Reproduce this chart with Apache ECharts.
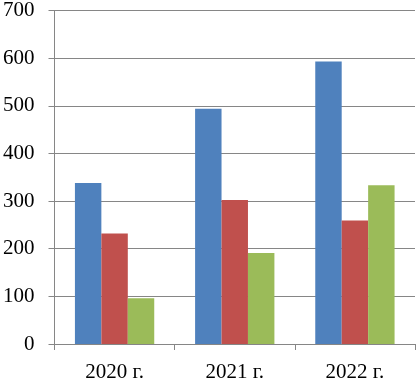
<!DOCTYPE html>
<html><head><meta charset="utf-8">
<script src="https://cdn.jsdelivr.net/npm/echarts@6/dist/echarts.min.js"></script>
<style>html,body{margin:0;padding:0;background:#fff}#c{width:417px;height:383px}</style>
</head><body><div id="c"></div>
<script>
const categories = ["2020 г.", "2021 г.", "2022 г."];
const seriesA = [338, 494, 593];
const seriesB = [232, 302, 259];
const seriesC = [96, 191, 333];
const colors = ["#4F81BD", "#C0504D", "#9BBB59"];

const chart = echarts.init(document.getElementById('c'));
const font = "'Liberation Serif', 'Times New Roman', serif";
chart.setOption({
  animation: false,
  grid: {left: 53, right: 2, top: 8, bottom: 35},
  xAxis: {
    type: 'category', data: categories,
    axisLine: {lineStyle: {color: '#868686', width: 1}},
    axisTick: {show: true, length: 6, lineStyle: {color: '#868686'}},
    axisLabel: {color: '#000', fontFamily: font, fontSize: 21, margin: 18}
  },
  yAxis: {
    type: 'value', min: 0, max: 700, interval: 100,
    axisLine: {show: true, lineStyle: {color: '#868686', width: 1}},
    axisTick: {show: true, length: 6, lineStyle: {color: '#868686'}},
    axisLabel: {color: '#000', fontFamily: font, fontSize: 21, margin: 20},
    splitLine: {lineStyle: {color: '#868686', width: 1}}
  },
  series: [
    {type: 'bar', data: seriesA, itemStyle: {color: colors[0]}, barGap: '0%', barCategoryGap: '34%'},
    {type: 'bar', data: seriesB, itemStyle: {color: colors[1]}, barGap: '0%', barCategoryGap: '34%'},
    {type: 'bar', data: seriesC, itemStyle: {color: colors[2]}, barGap: '0%', barCategoryGap: '34%'}
  ]
});
</script></body></html>
